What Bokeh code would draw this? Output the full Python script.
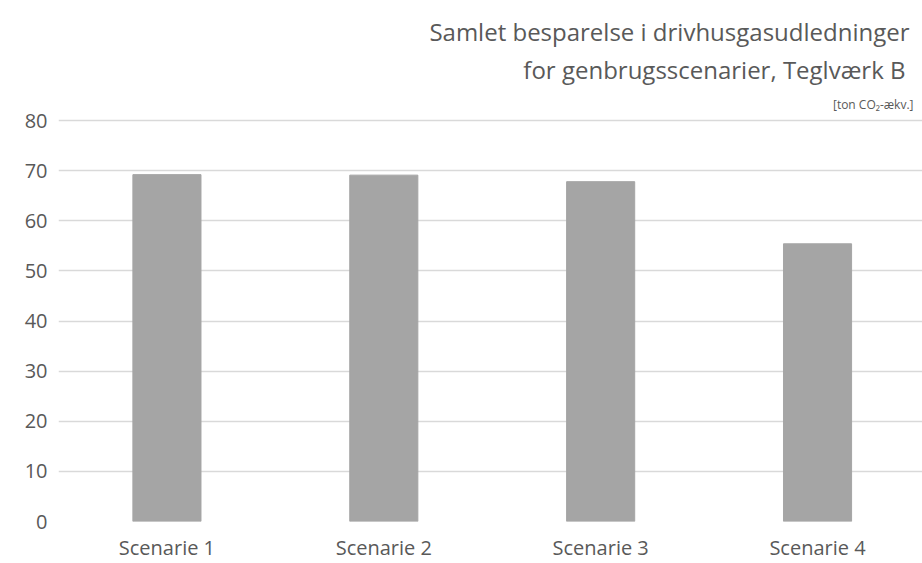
from bokeh.plotting import figure
from bokeh.models import Range1d, FixedTicker, Title
from bokeh.embed import file_html
from bokeh.resources import INLINE

categories = ["Scenarie 1", "Scenarie 2", "Scenarie 3", "Scenarie 4"]
values = [69.2, 69.1, 67.8, 55.4]
y_ticks = [0, 10, 20, 30, 40, 50, 60, 70, 80]

FONT = "Open Sans"
TXT = "#595959"

xs = [i + 0.5 for i in range(len(categories))]

p = figure(width=922, height=563, output_backend="svg", toolbar_location=None,
           x_range=Range1d(0, 3.984), y_range=Range1d(0, 80.4),
           min_border_left=58, min_border_right=0, min_border_bottom=42, min_border_top=118)
p.outline_line_color = None
p.background_fill_color = "white"

p.vbar(x=xs, top=values, width=0.314, color="#a5a5a5")

p.xaxis.ticker = FixedTicker(ticks=xs)
p.xaxis.major_label_overrides = {x: c for x, c in zip(xs, categories)}
p.yaxis.ticker = FixedTicker(ticks=y_ticks)
for ax in (p.xaxis, p.yaxis):
    ax.axis_line_color = None
    ax.major_tick_line_color = None
    ax.minor_tick_line_color = None
    ax.major_tick_out = 0
    ax.major_tick_in = 0
    ax.minor_tick_out = 0
    ax.minor_tick_in = 0
    ax.major_label_text_font = FONT
    ax.major_label_text_font_size = "20px"
    ax.major_label_text_color = TXT
p.yaxis.major_label_standoff = 11
p.xaxis.major_label_standoff = 12
p.xgrid.grid_line_color = None
p.ygrid.grid_line_color = "#d9d9d9"
p.ygrid.grid_line_width = 1.5

p.add_layout(Title(text="[ton CO\u2082-\u00e6kv.]", align="right", text_font=FONT,
                   text_font_size="12px", text_color=TXT, text_font_style="normal",
                   offset=9, standoff=11), "above")
p.add_layout(Title(text="for genbrugsscenarier, Teglv\u00e6rk B", align="right", text_font=FONT,
                   text_font_size="24px", text_color=TXT, text_font_style="normal",
                   offset=17, standoff=6), "above")
p.add_layout(Title(text="Samlet besparelse i drivhusgasudledninger", align="right", text_font=FONT,
                   text_font_size="24px", text_color=TXT, text_font_style="normal",
                   offset=13, standoff=0), "above")

open("out.html", "w").write(file_html(p, INLINE))
